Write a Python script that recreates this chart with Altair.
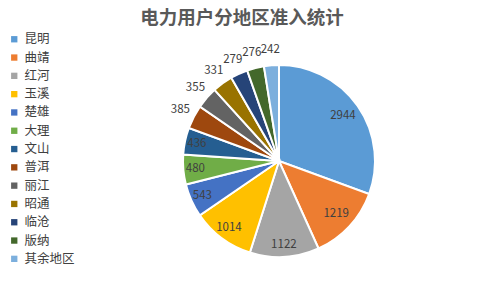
import altair as alt
import pandas as pd

regions = ["昆明", "曲靖", "红河", "玉溪", "楚雄", "大理", "文山", "普洱", "丽江", "昭通", "临沧", "版纳", "其余地区"]
counts = [2944, 1219, 1122, 1014, 543, 480, 436, 385, 355, 331, 279, 276, 242]
colors = ["#5B9BD5", "#ED7D31", "#A5A5A5", "#FFC000", "#4472C4", "#70AD47", "#255E91",
          "#9E480E", "#636363", "#997300", "#264478", "#43682B", "#7CAFDD"]

df = pd.DataFrame({"region": regions, "count": counts, "idx": list(range(len(regions)))})

FONT = "Noto Sans CJK SC"
CX, CY = 279, 131

base = alt.Chart(df).encode(
    theta=alt.Theta("count:Q", stack=True),
    order=alt.Order("idx:Q"),
    x=alt.value(CX),
    y=alt.value(CY),
)

arcs = base.mark_arc(outerRadius=96, stroke="white", strokeWidth=2).encode(
    color=alt.Color(
        "region:N",
        scale=alt.Scale(domain=regions, range=colors),
        sort=regions,
        legend=alt.Legend(
            title=None,
            orient="none",
            legendX=8,
            legendY=3,
            symbolType="square",
            symbolSize=40,
            symbolStrokeWidth=0,
            labelFont=FONT,
            labelFontSize=12.5,
            labelColor="#404040",
            rowPadding=5.3,
            labelOffset=4,
        ),
    )
)


def label_layer(cond, r):
    return base.mark_text(font=FONT, fontSize=11.5, color="#404040", radius=r).encode(
        text=alt.condition(cond, alt.Text("count:Q"), alt.value(""))
    )


lab_big = label_layer("datum.count > 1150", 78)
lab_mid = label_layer("datum.count > 400 && datum.count <= 1150", 84)
lab_out = label_layer("datum.count <= 400", 111)

chart = (arcs + lab_big + lab_mid + lab_out).properties(
    width=484,
    height=259,
    padding={"top": 30, "left": 0, "right": 0, "bottom": 0},
    autosize=alt.AutoSizeParams(type="none"),
    title=alt.TitleParams(
        "电力用户分地区准入统计",
        font=FONT,
        fontSize=18.5,
        fontWeight="bold",
        color="#595959",
        anchor="middle",
        offset=3,
    ),
).configure_view(stroke=None)

chart.save("out.html", embed_options={"renderer": "svg", "actions": False})
